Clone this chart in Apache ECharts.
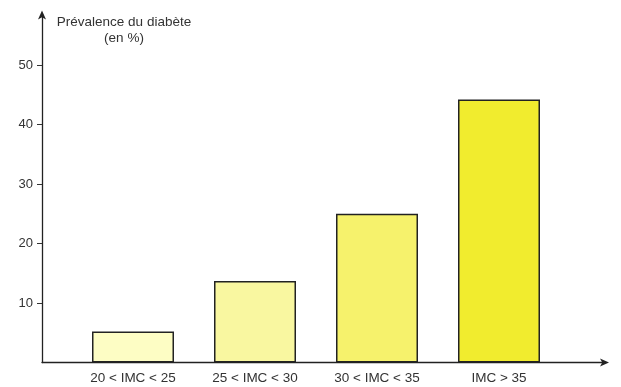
<!DOCTYPE html>
<html>
<head>
<meta charset="utf-8">
<script src="https://cdn.jsdelivr.net/npm/echarts@6/dist/echarts.min.js"></script>
<style>html,body{margin:0;padding:0;background:#fff;}#c{width:621px;height:387px;}</style>
</head>
<body>
<div id="c"></div>
<script>
const categories = ['20 < IMC < 25', '25 < IMC < 30', '30 < IMC < 35', 'IMC > 35'];
const values = [5.2, 13.7, 25.0, 44.2];
const barColors = ['#fdfdc4', '#f9f7a0', '#f6f26c', '#f1ec2e'];
const yTicks = [10, 20, 30, 40, 50];
const yTitle = 'Prévalence du diabète\n(en %)';

const font = '"Liberation Sans", Arial, sans-serif';
const chart = echarts.init(document.getElementById('c'));
const TOP = 14.4, BOTTOM = 24.5, YMAX = 58.5;
chart.setOption({
  animation: false,
  backgroundColor: '#ffffff',
  grid: [
    { left: 42, right: 16, top: TOP, bottom: BOTTOM },
    { left: 72, right: 61, top: TOP, bottom: BOTTOM }
  ],
  xAxis: [
    { type: 'value', gridIndex: 0, min: 0, max: 1,
      axisLine: { show: true, lineStyle: { color: '#222', width: 1.3 }, symbol: ['none', 'arrow'], symbolSize: [6, 9], symbolOffset: [0, 4] },
      axisTick: { show: false }, axisLabel: { show: false }, splitLine: { show: false } },
    { type: 'category', gridIndex: 1, data: categories,
      axisLine: { show: false }, axisTick: { show: false },
      axisLabel: { color: '#333', fontSize: 13.5, fontFamily: font, margin: 9 } }
  ],
  yAxis: [
    { type: 'value', gridIndex: 0, min: 0, max: YMAX,
      axisLine: { show: true, lineStyle: { color: '#222', width: 1.3 }, symbol: ['none', 'arrow'], symbolSize: [6, 9], symbolOffset: [0, 4] },
      axisTick: { show: true, length: 5, customValues: yTicks, lineStyle: { color: '#333' } },
      axisLabel: { customValues: yTicks, color: '#333', fontSize: 13, fontFamily: font, margin: 9 },
      splitLine: { show: false } },
    { type: 'value', gridIndex: 1, min: 0, max: YMAX, show: false }
  ],
  graphic: [
    { type: 'text', x: 124, y: 14,
      style: { text: yTitle, fill: '#333', font: '13.5px ' + font, align: 'center', lineHeight: 16 } }
  ],
  series: [
    { type: 'bar', xAxisIndex: 1, yAxisIndex: 1, barWidth: 82,
      data: values.map((v, i) => ({ value: v, itemStyle: { color: barColors[i] } })),
      itemStyle: { borderColor: '#222', borderWidth: 1.5 } }
  ]
});
</script>
</body>
</html>
